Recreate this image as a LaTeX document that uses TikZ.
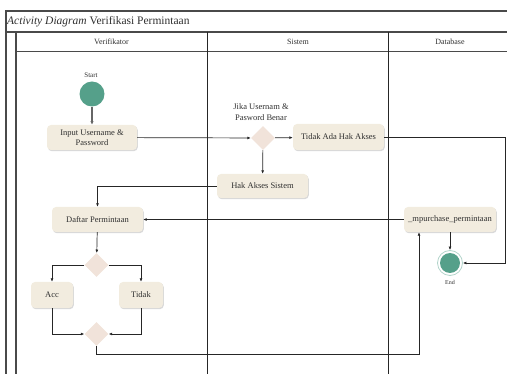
\documentclass[tikz,border=0pt]{standalone}
\usepackage{fontspec}
\setmainfont{Liberation Serif}
\usetikzlibrary{arrows.meta,shapes.geometric,shadows}
\definecolor{boxfill}{HTML}{F2ECDF}
\definecolor{decfill}{HTML}{F1E3DA}
\definecolor{nodegreen}{HTML}{55A08A}
\definecolor{txt}{HTML}{303030}
\definecolor{framegray}{HTML}{4A4A4A}
\begin{document}
\begin{tikzpicture}[x=1pt,y=-1pt,
  frameline/.style={draw=framegray,line width=1.3pt},
  laneline/.style={draw=black!85,line width=0.8pt},
  act/.style={rectangle,rounded corners=4pt,fill=boxfill,text=txt,
    font=\fontsize{8.5}{10}\selectfont,align=center,inner sep=0pt,
    drop shadow={shadow xshift=0.8pt,shadow yshift=-1.2pt,opacity=0.25,fill=black!60}},
  decision/.style={diamond,fill=decfill,inner sep=0pt,minimum width=24pt,minimum height=24pt},
  lbl/.style={text=txt,align=center,inner sep=0pt},
  arr/.style={draw=black!85,line width=0.7pt,-{Latex[length=3.5pt,width=3pt]}},
  lane/.style={text=txt,font=\fontsize{8}{9.5}\selectfont,inner sep=0pt}]
\useasboundingbox (0,0) rectangle (507,374);

% swimlane frame
\draw[frameline] (6,374) -- (6,11) -- (507,11);
\draw[frameline] (6,32) -- (507,32);
\draw[frameline] (16,374) -- (16,32);
\draw[draw=framegray,line width=1pt] (16,52) -- (507,52);
\draw[laneline] (207,32) -- (207,374);
\draw[laneline] (388,32) -- (388,374);

\node[lbl,anchor=west,font=\fontsize{11.5}{13}\selectfont] (title) at (7,21.5)
  {\textit{Activity Diagram} Verifikasi Permintaan};
\node[lane] (hv) at (111.5,42) {Verifikator};
\node[lane] (hs) at (298,42) {Sistem};
\node[lane] (hd) at (450,42) {Database};

% nodes
\node[circle,fill=nodegreen,minimum size=25pt,inner sep=0pt] (start) at (92,94) {};
\node[lbl,font=\fontsize{7}{8}\selectfont] (startlbl) at (91,75) {Start};

\node[act,minimum width=90pt,minimum height=25pt] (input) at (92,137.5) {Input Username \&\\Password};
\node[decision] (dec1) at (263,138) {};
\node[lbl,font=\fontsize{8.5}{11}\selectfont] (declbl) at (261,112.5) {Jika Usernam \&\\Pasword Benar};
\node[act,minimum width=91pt,minimum height=26pt] (noakses) at (338.5,137) {Tidak Ada Hak Akses};
\node[act,minimum width=91pt,minimum height=24pt] (akses) at (262.5,186) {Hak Akses Sistem};
\node[act,minimum width=91pt,minimum height=25pt] (daftar) at (97.5,219.5) {Daftar Permintaan};
\node[act,minimum width=92pt,minimum height=25pt] (mp) at (450,219.5) {\_mpurchase\_permintaan};
\node[decision] (dec2) at (96.5,265) {};
\node[act,minimum width=42pt,minimum height=26pt] (acc) at (52,295) {Acc};
\node[act,minimum width=44pt,minimum height=26pt] (tidak) at (141,295) {Tidak};
\node[decision] (dec3) at (96.5,334) {};

\node[circle,draw=nodegreen!45,line width=0.8pt,fill=white,minimum size=25pt,inner sep=0pt] (end) at (450,263) {};
\node[circle,fill=nodegreen,minimum size=20pt,inner sep=0pt] (endcore) at (end.center) {};
\node[lbl,font=\fontsize{6}{7}\selectfont] (endlbl) at (450,282) {End};

\coordinate (rcorner) at (505,137);
\coordinate (mpin) at ([xshift=-31pt]mp.south);

% flows
\draw[draw=black!60,line width=1.4pt,-{Latex[length=3.5pt,width=3.5pt]}] (start) -- (input);
\draw[arr] (input) -- (dec1);
\draw[arr] (dec1) -- (noakses);
\draw[arr] (dec1) -- (akses);
\draw[arr] (akses.west) -| (daftar.north);
\draw[arr] (mp.west) -- (daftar.east);
\draw[arr] (daftar) -- (dec2);
\draw[arr] (dec2.west) -| (acc.north);
\draw[arr] (dec2.east) -| (tidak.north);
\draw[arr] (acc.south) |- (dec3.west);
\draw[arr] (tidak.south) |- (dec3.east);
\draw[arr] (dec3.south) -- ++(0,8) -| (mpin);
\draw[arr] (mp) -- (end);
\draw[arr] (noakses.east) -- (rcorner) |- (end.east);
\end{tikzpicture}
\end{document}
